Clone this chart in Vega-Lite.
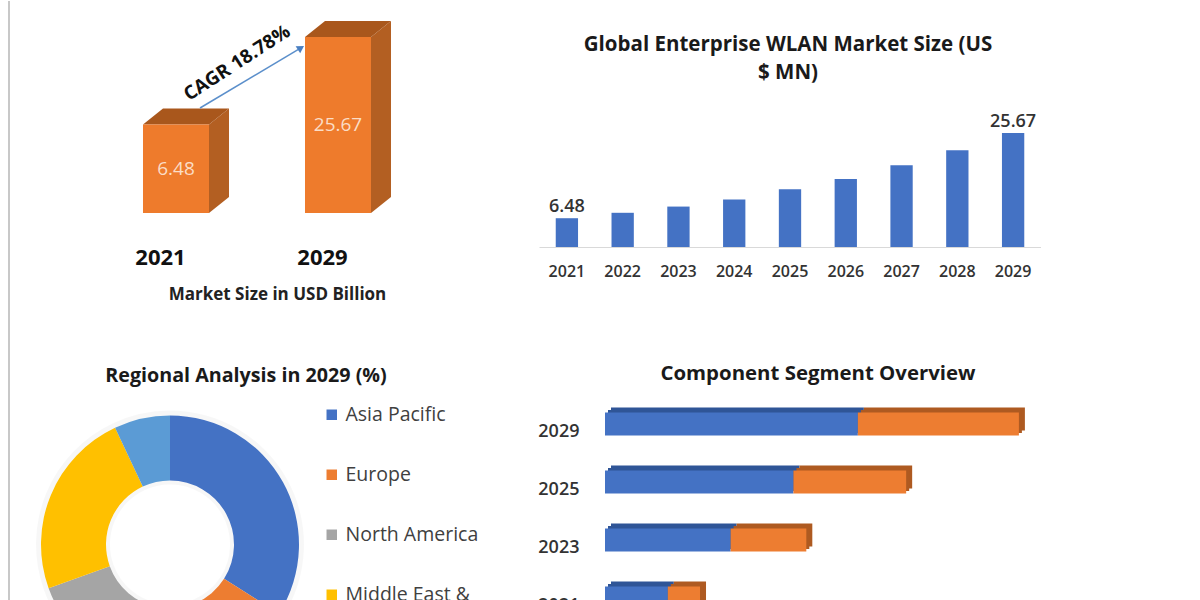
{"$schema":"https://vega.github.io/schema/vega-lite/v6.json","padding":0,"background":"white","config":{"font":"Open Sans","view":{"stroke":null},"axis":{"grid":false},"title":{"font":"Open Sans","fontWeight":"bold","color":"#1a1a1a"}},"bounds":"flush","spacing":395,"resolve":{"scale":{"color":"independent"},"legend":{"color":"independent"}},"vconcat":[{"bounds":"flush","spacing":39,"hconcat":[{"width":500,"height":213,"data":{"values":[{"year":"2021","slot":0,"value":6.48},{"year":"2029","slot":1,"value":25.67}]},"layer":[{"transform":[{"calculate":"[datum.slot+0.4074,datum.slot+0.5309]","as":"xs"},{"calculate":"[sqrt(datum.value),sqrt(datum.value)+0.4606]","as":"yt"},{"calculate":"[0,0.4606]","as":"yb"},{"flatten":["xs","yt","yb"]},{"calculate":"pow(datum.yt,2)","as":"ya"},{"calculate":"pow(datum.yb,2)","as":"yc"}],"mark":{"type":"area","color":"#B35F22","orient":"vertical"},"encoding":{"x":{"field":"xs","type":"quantitative","scale":{"domain":[-0.8827,2.2037],"nice":false},"axis":{"values":[0,1],"labelExpr":"datum.value==0?'2021':'2029'","domain":false,"ticks":false,"labelFontSize":22,"labelFontWeight":"bold","labelColor":"#111","labelPadding":34,"labelOffset":17,"title":"Market Size in USD Billion","titleFontSize":17,"titleFontWeight":"bold","titleColor":"#222","titleX":277,"titleY":73,"labelAngle":0}},"y":{"field":"ya","type":"quantitative","stack":null,"scale":{"type":"sqrt","domain":[0,37.6]},"axis":null},"y2":{"field":"yc"},"detail":{"field":"year"}}},{"transform":[{"calculate":"[datum.slot,datum.slot+0.1235,datum.slot+0.4074,datum.slot+0.5309]","as":"xs"},{"calculate":"[sqrt(datum.value),sqrt(datum.value)+0.4606,sqrt(datum.value)+0.4606,sqrt(datum.value)+0.4606]","as":"yt"},{"calculate":"[sqrt(datum.value),sqrt(datum.value),sqrt(datum.value),sqrt(datum.value)+0.4606]","as":"yb"},{"flatten":["xs","yt","yb"]},{"calculate":"pow(datum.yt,2)","as":"ya"},{"calculate":"pow(datum.yb,2)","as":"yc"}],"mark":{"type":"area","color":"#A9571C","orient":"vertical"},"encoding":{"x":{"field":"xs","type":"quantitative","scale":{"domain":[-0.8827,2.2037],"nice":false}},"y":{"field":"ya","type":"quantitative","stack":null,"scale":{"type":"sqrt","domain":[0,37.6]},"axis":null},"y2":{"field":"yc"},"detail":{"field":"year"}}},{"transform":[{"calculate":"datum.slot+0.4074","as":"xe"}],"mark":{"type":"rect","color":"#EE7B2C"},"encoding":{"x":{"field":"slot","type":"quantitative","scale":{"domain":[-0.8827,2.2037],"nice":false}},"x2":{"field":"xe"},"y":{"field":"value","type":"quantitative","scale":{"type":"sqrt","domain":[0,37.6]},"axis":null},"y2":{"datum":0}}},{"transform":[{"calculate":"datum.slot+0.2037","as":"xc"},{"calculate":"datum.value/4","as":"ym"}],"mark":{"type":"text","color":"#FBDDC6","fontSize":19},"encoding":{"x":{"field":"xc","type":"quantitative","scale":{"domain":[-0.8827,2.2037],"nice":false}},"y":{"field":"ym","type":"quantitative","scale":{"type":"sqrt","domain":[0,37.6]},"axis":null},"text":{"field":"value","type":"quantitative","format":".2f"}}},{"data":{"values":[{"x":0.352,"y":9.14,"xe":0.975,"ye":22.6}]},"mark":{"type":"rule","color":"#5B8FCB","strokeWidth":1.5},"encoding":{"x":{"field":"x","type":"quantitative","scale":{"domain":[-0.8827,2.2037],"nice":false}},"x2":{"field":"xe"},"y":{"field":"y","type":"quantitative","scale":{"type":"sqrt","domain":[0,37.6]},"axis":null},"y2":{"field":"ye"}}},{"data":{"values":[{"x":0.975,"y":22.6}]},"mark":{"type":"point","shape":"triangle-up","angle":57,"size":70,"filled":true,"opacity":1,"color":"#4A7FC1"},"encoding":{"x":{"field":"x","type":"quantitative","scale":{"domain":[-0.8827,2.2037],"nice":false}},"y":{"field":"y","type":"quantitative","scale":{"type":"sqrt","domain":[0,37.6]},"axis":null}}},{"data":{"values":[{"x":0.58,"y":18.65,"label":"CAGR 18.78%"}]},"mark":{"type":"text","angle":327,"fontSize":19,"fontWeight":"bold","color":"#111"},"encoding":{"x":{"field":"x","type":"quantitative","scale":{"domain":[-0.8827,2.2037],"nice":false}},"y":{"field":"y","type":"quantitative","scale":{"type":"sqrt","domain":[0,37.6]},"axis":null},"text":{"field":"label"}}}]},{"width":502,"height":247,"title":{"text":["Global Enterprise WLAN Market Size (US","$ MN)"],"fontSize":20.5,"lineHeight":28,"offset":-83,"anchor":"middle","dx":-2},"data":{"values":[{"year":"2021","value":6.48},{"year":"2022","value":7.7},{"year":"2023","value":9.1},{"year":"2024","value":10.7},{"year":"2025","value":13},{"year":"2026","value":15.3},{"year":"2027","value":18.4},{"year":"2028","value":21.8},{"year":"2029","value":25.67}]},"layer":[{"mark":{"type":"bar","color":"#4472C4"},"encoding":{"x":{"field":"year","type":"ordinal","scale":{"paddingInner":0.6,"paddingOuter":0.3},"axis":{"title":null,"labelAngle":0,"ticks":false,"domainColor":"#D9D9D9","labelFontSize":16,"labelFontWeight":600,"labelColor":"#333","labelPadding":16}},"y":{"field":"value","type":"quantitative","scale":{"domain":[0,55.6]},"axis":null}}},{"transform":[{"filter":"datum.year=='2021'||datum.year=='2029'"}],"mark":{"type":"text","baseline":"bottom","dy":-2,"fontSize":18,"fontWeight":600,"color":"#333"},"encoding":{"x":{"field":"year","type":"ordinal","scale":{"paddingInner":0.6,"paddingOuter":0.3}},"y":{"field":"value","type":"quantitative","scale":{"domain":[0,55.6]},"axis":null},"text":{"field":"value","type":"quantitative","format":".2f"}}}]}]},{"bounds":"flush","spacing":265,"resolve":{"scale":{"color":"independent"},"legend":{"color":"independent"}},"hconcat":[{"width":340,"height":299,"title":{"text":"Regional Analysis in 2029 (%)","fontSize":19.7,"offset":-386,"anchor":"middle","dx":76},"data":{"values":[{"region":"Asia Pacific","share":34,"ord":1},{"region":"Europe","share":19,"ord":2},{"region":"North America","share":16.5,"ord":3},{"region":"Middle East & Africa","share":23.5,"ord":4},{"region":"South America","share":7,"ord":5}]},"layer":[{"mark":{"type":"rule","color":"#C8C8C8","strokeWidth":2},"encoding":{"x":{"datum":9,"type":"quantitative","scale":{"domain":[0,340],"nice":false},"axis":null},"y":{"datum":-394,"type":"quantitative","scale":{"domain":[0,299],"reverse":true,"nice":false},"axis":null},"y2":{"datum":205}}},{"mark":{"type":"arc","radius":134,"innerRadius":60,"color":"#000","opacity":0.03},"encoding":{"theta":{"field":"share","type":"quantitative","stack":true},"order":{"field":"ord"}}},{"mark":{"type":"arc","radius":129,"innerRadius":64},"encoding":{"theta":{"field":"share","type":"quantitative","stack":true},"order":{"field":"ord"},"color":{"field":"region","type":"nominal","sort":null,"scale":{"domain":["Asia Pacific","Europe","North America","Middle East & Africa","South America"],"range":["#4472C4","#ED7D31","#A5A5A5","#FFC000","#5B9BD5"]},"legend":{"title":null,"orient":"none","legendX":322,"legendY":10,"symbolType":"square","symbolSize":110,"labelFontSize":19.5,"labelColor":"#404040","rowPadding":39,"labelOffset":4,"labelLimit":200,"labelExpr":"datum.label=='Middle East & Africa'?['Middle East &','Africa']:datum.label"}}}}]},{"width":430,"height":232,"title":{"text":"Component Segment Overview","fontSize":20.4,"offset":11,"anchor":"middle","dx":-2},"data":{"values":[{"year":"2029","part":"Hardware","ord":1,"value":15.7},{"year":"2029","part":"Services","ord":2,"value":10},{"year":"2025","part":"Hardware","ord":1,"value":11.7},{"year":"2025","part":"Services","ord":2,"value":7},{"year":"2023","part":"Hardware","ord":1,"value":7.8},{"year":"2023","part":"Services","ord":2,"value":4.7},{"year":"2021","part":"Hardware","ord":1,"value":3.9},{"year":"2021","part":"Services","ord":2,"value":2}]},"layer":[{"mark":{"type":"bar","size":23,"xOffset":6,"yOffset":-5},"encoding":{"y":{"field":"year","type":"ordinal","sort":["2029","2025","2023","2021"],"axis":{"title":null,"ticks":false,"domain":false,"labelFontSize":18,"labelFontWeight":600,"labelColor":"#333","labelPadding":26,"labelOffset":7.5}},"x":{"field":"value","type":"quantitative","scale":{"domain":[0,26.7]},"axis":null},"color":{"field":"part","type":"nominal","legend":null,"scale":{"domain":["Hardware","Services"],"range":["#2F5597","#AE5A21"]}},"order":{"field":"ord"}}},{"mark":{"type":"bar","size":23,"xOffset":3,"yOffset":-2.5},"encoding":{"y":{"field":"year","type":"ordinal","sort":["2029","2025","2023","2021"]},"x":{"field":"value","type":"quantitative","scale":{"domain":[0,26.7]},"axis":null},"color":{"field":"part","type":"nominal","legend":null,"scale":{"domain":["Hardware","Services"],"range":["#2F5597","#AE5A21"]}},"order":{"field":"ord"}}},{"mark":{"type":"bar","size":23},"encoding":{"y":{"field":"year","type":"ordinal","sort":["2029","2025","2023","2021"]},"x":{"field":"value","type":"quantitative","scale":{"domain":[0,26.7]},"axis":null},"fill":{"field":"part","type":"nominal","legend":null,"scale":{"domain":["Hardware","Services"],"range":["#4472C4","#ED7D31"]}},"order":{"field":"ord"}}}]}]}]}
